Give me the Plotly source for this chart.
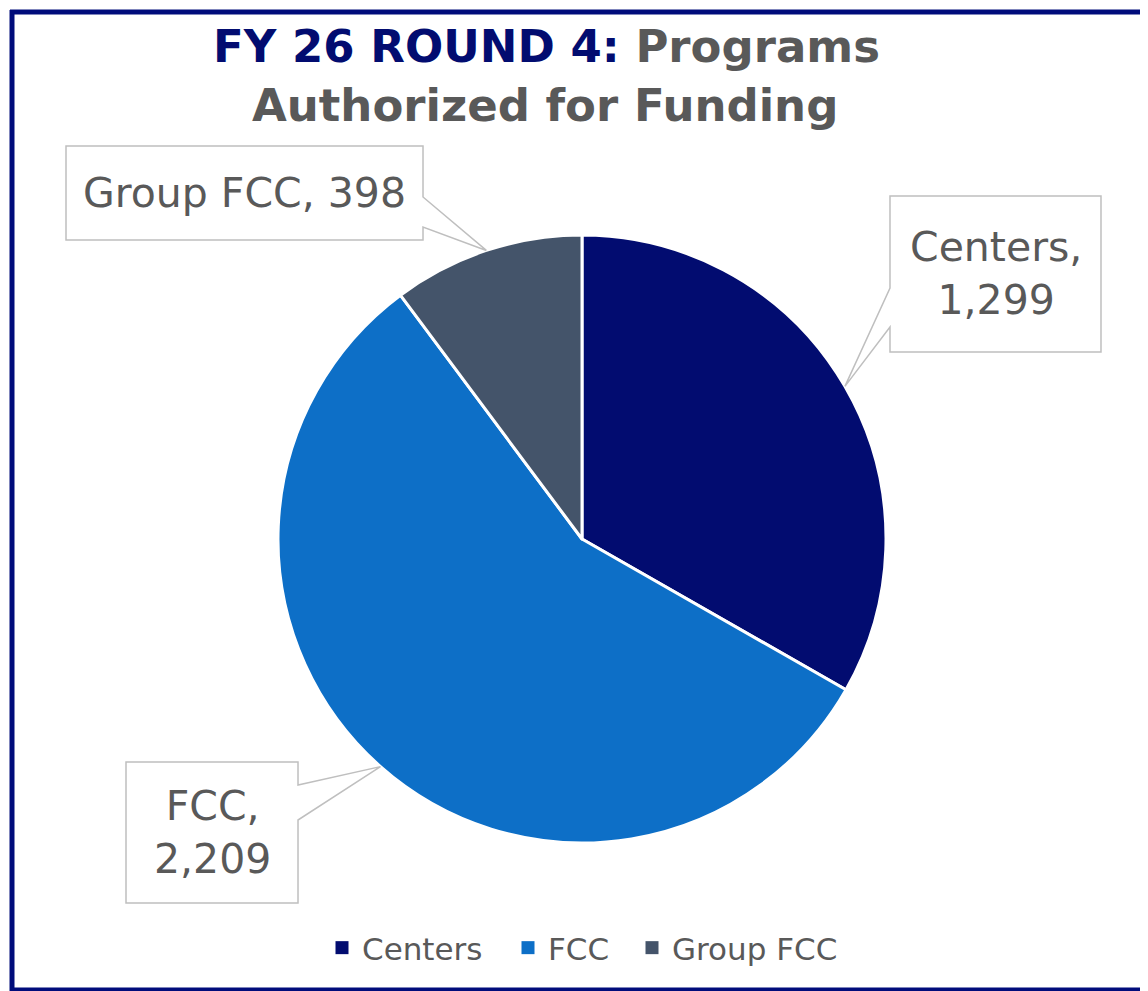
import math
import plotly.graph_objects as go

# ---- data ----
categories = ["Centers", "FCC", "Group FCC"]
values = [1299, 2209, 398]
colors = ["#020C70", "#0D6FC7", "#44546A"]
label_texts = ["Centers,<br>1,299", "FCC,<br>2,209", "Group FCC, 398"]

OFF = 8  # page body margin in the browser
W, H = 1148 - OFF, 991 - OFF  # figure fits the window without scrollbars
CX, CY, R = 582, 539, 304  # pie centre / radius in screen pixels
FONT = "DejaVu Sans"
GRAY = "#595959"

def px(x):
    return (x - OFF) / W

def py(y):
    return 1 - (y - OFF) / H

fig = go.Figure()
fig.add_trace(go.Pie(
    labels=categories, values=values, sort=False, direction="clockwise", rotation=0,
    marker=dict(colors=colors, line=dict(color="white", width=3)),
    textinfo="none", hoverinfo="label+value", showlegend=False,
    domain=dict(x=[px(CX - R), px(CX + R)], y=[py(CY + R), py(CY - R)]),
))

# legend entries with square swatches, one legend each so they can be spaced
legend_names = ["legend", "legend2", "legend3"]
legend_sym_x = [341, 527, 651]
for name, col, lg in zip(categories, colors, legend_names):
    fig.add_trace(go.Scatter(
        x=[None], y=[None], mode="markers", name=name, legend=lg,
        marker=dict(symbol="square", size=13, color=col), hoverinfo="skip",
    ))

# callout boxes (layout): left, top, right, bottom, side where pointer attaches, pointer y's
boxes = [
    dict(l=890, t=196, r=1101, b=352, side="left", y1=288, y2=327),
    dict(l=126, t=762, r=298, b=903, side="right", y1=785, y2=820),
    dict(l=66, t=146, r=423, b=240, side="right", y1=197, y2=227),
]

total = sum(values)
shapes = []
annotations = []
cum = 0
for i, v in enumerate(values):
    mid = (cum + v / 2) / total * 2 * math.pi
    cum += v
    tx = CX + R * math.sin(mid)
    ty = CY - R * math.cos(mid)
    b = boxes[i]
    if b["side"] == "left":
        pts = [(b["l"], b["t"]), (b["r"], b["t"]), (b["r"], b["b"]), (b["l"], b["b"]),
               (b["l"], b["y2"]), (tx, ty), (b["l"], b["y1"])]
    else:
        pts = [(b["l"], b["t"]), (b["r"], b["t"]), (b["r"], b["y1"]), (tx, ty),
               (b["r"], b["y2"]), (b["r"], b["b"]), (b["l"], b["b"])]
    path = "M " + " L ".join(f"{px(x):.5f},{py(y):.5f}" for x, y in pts) + " Z"
    shapes.append(dict(type="path", path=path, xref="paper", yref="paper",
                       fillcolor="white", line=dict(color="#BFBFBF", width=1.5), layer="above"))
    annotations.append(dict(
        text=label_texts[i], x=px((b["l"] + b["r"]) / 2), y=py((b["t"] + b["b"]) / 2),
        xref="paper", yref="paper", xanchor="center", yanchor="middle", showarrow=False,
        align="center", font=dict(family=FONT, size=41, color=GRAY),
    ))

# outer navy frame: left, top and bottom edges (right edge lies beyond the view)
for x0, y0, x1, y1 in [(12, 10, 12, 992), (10, 12, 1148, 12), (10, 990, 1148, 990)]:
    shapes.append(dict(type="line", xref="paper", yref="paper",
                       x0=px(x0), y0=py(y0), x1=px(x1), y1=py(y1),
                       line=dict(color="#000C7B", width=5), layer="above"))

# title
annotations.append(dict(
    text="<b><span style='color:#020C70'>FY 26 ROUND 4:</span> Programs</b>",
    x=px(546), y=py(47), xref="paper", yref="paper", xanchor="center", yanchor="middle",
    showarrow=False, font=dict(family=FONT, size=45, color=GRAY),
))
annotations.append(dict(
    text="<b>Authorized for Funding</b>",
    x=px(545), y=py(106), xref="paper", yref="paper", xanchor="center", yanchor="middle",
    showarrow=False, font=dict(family=FONT, size=45, color=GRAY),
))

legend_common = dict(orientation="h", xanchor="left", y=py(948), yanchor="middle",
                     font=dict(family=FONT, size=31, color=GRAY), bgcolor="rgba(0,0,0,0)")
layout_legends = {lg: dict(legend_common, x=px(sx - 19)) for lg, sx in zip(legend_names, legend_sym_x)}

fig.update_layout(
    width=W, height=H, margin=dict(l=0, r=0, t=0, b=0),
    paper_bgcolor="white", plot_bgcolor="white",
    xaxis=dict(visible=False), yaxis=dict(visible=False),
    shapes=shapes, annotations=annotations,
    showlegend=True,
    **layout_legends,
)

fig.write_html("out.html")
